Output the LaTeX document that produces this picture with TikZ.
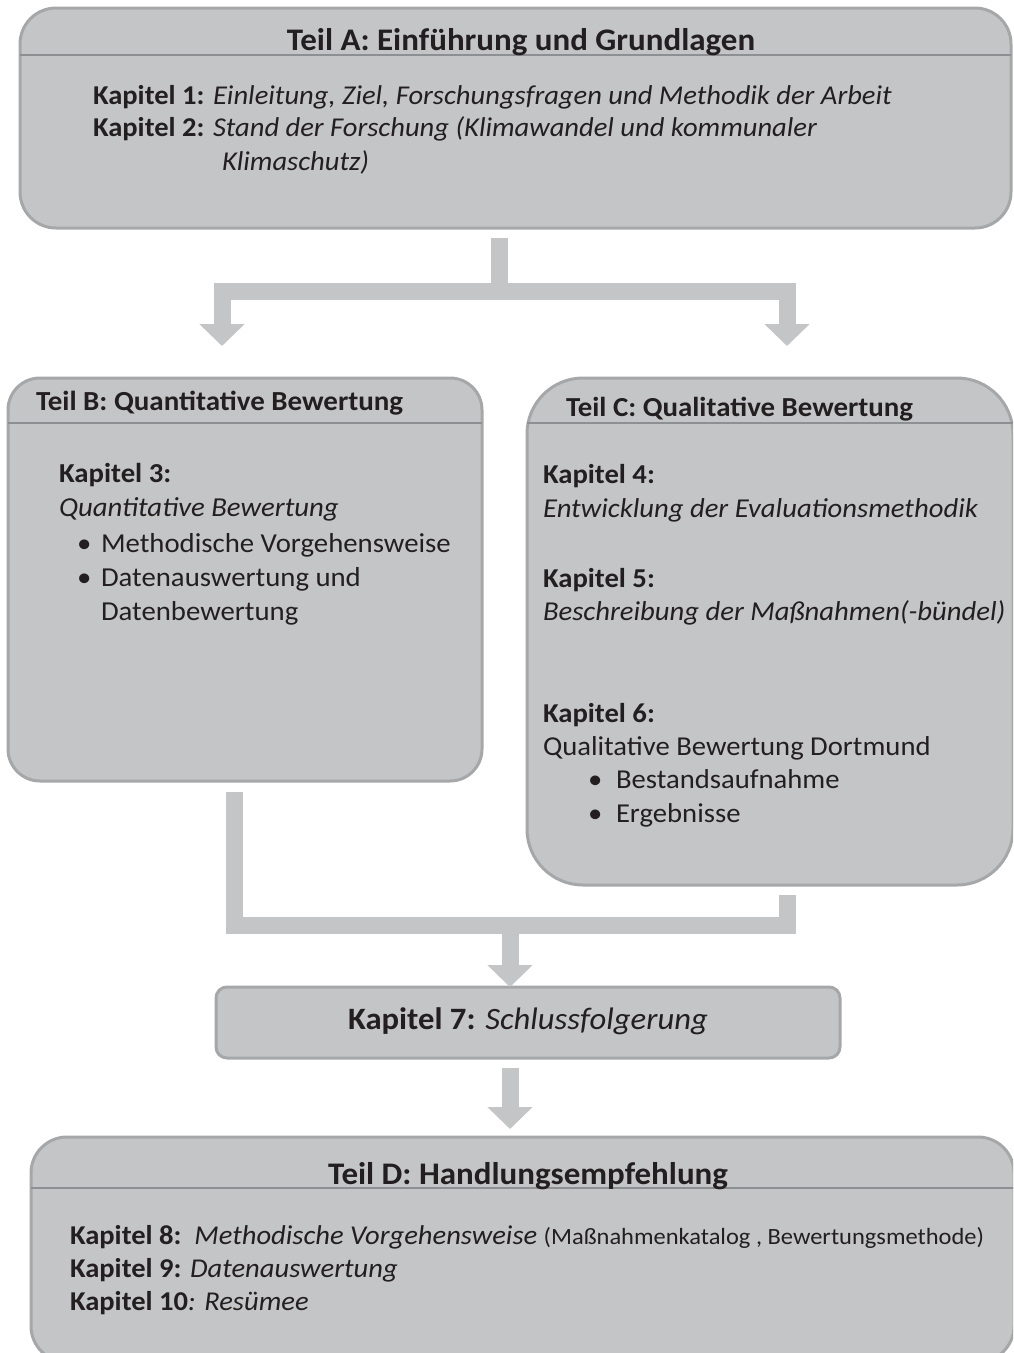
\documentclass[tikz,border=0pt]{standalone}
\usepackage{fontspec}
\setmainfont{Carlito}[FakeStretch=1.05]
\usetikzlibrary{arrows.meta}
\definecolor{boxfill}{HTML}{C4C5C7}
\definecolor{boxline}{HTML}{A6A7A9}
\definecolor{sepline}{HTML}{8E8F92}
\definecolor{txtcol}{HTML}{231F20}
\newcommand{\fs}[1]{\fontsize{#1}{#1}\selectfont}
\tikzset{
  panel/.style={draw=boxline, line width=3pt, fill=boxfill, inner sep=0pt, outer sep=0pt, anchor=north west},
  sep/.style={draw=sepline, line width=1.6pt},
  txt/.style={inner sep=0pt, outer sep=0pt, anchor=base west, text=txtcol},
  ctxt/.style={inner sep=0pt, outer sep=0pt, anchor=base, text=txtcol},
  conn/.style={draw=boxfill, line width=17pt, line join=miter, line cap=butt},
  connarrow/.style={conn, -{Triangle[width=44pt,length=22pt]}},
}
\begin{document}
\begin{tikzpicture}[x=1pt,y=-1pt]
\useasboundingbox (0,0) rectangle (1013,1353);
\begin{scope}
\clip (0,0) rectangle (1013,1353);
% ---------- Teil A
\node[panel, rounded corners=36pt, minimum width=991pt, minimum height=220pt] (A) at (20,8) {};
\draw[sep] (A.west |- 0,55) -- (A.east |- 0,55);
\node[ctxt, font=\fs{31.4}\bfseries] (Atitle) at (521,50) {Teil A: Einführung und Grundlagen};
\node[txt, font=\fs{27.2}] (A1) at (93,104) {\textbf{Kapitel 1:} \textit{Einleitung, Ziel, Forschungsfragen und Methodik der Arbeit}};
\node[txt, font=\fs{27.2}] (A2) at (93,136) {\textbf{Kapitel 2:} \textit{Stand der Forschung (Klimawandel und kommunaler}};
\node[txt, font=\fs{27.2}] (A3) at (222,170) {\textit{Klimaschutz)}};
% ---------- Teil B
\node[panel, rounded corners=32pt, minimum width=474pt, minimum height=403pt] (B) at (8,378) {};
\draw[sep] (B.west |- 0,423) -- (B.east |- 0,423);
\node[txt, font=\fs{27.6}\bfseries] (Btitle) at (36,410) {Teil B: Quantitative Bewertung};
\node[txt, font=\fs{27.4}\bfseries] (B1) at (59,482) {Kapitel 3:};
\node[txt, font=\fs{27.4}\itshape] (B2) at (59,516) {Quantitative Bewertung};
\node[txt, font=\fs{27.4}] (Bb1) at (77,552) {•};
\node[txt, font=\fs{27.4}] (B3) at (101,552) {Methodische Vorgehensweise};
\node[txt, font=\fs{27.4}] (Bb2) at (77,586) {•};
\node[txt, font=\fs{27.4}] (B4) at (101,586) {Datenauswertung und};
\node[txt, font=\fs{27.4}] (B5) at (101,620) {Datenbewertung};
% ---------- Teil C
\node[panel, rounded corners=56pt, minimum width=486pt, minimum height=507pt] (C) at (527,378) {};
\draw[sep] (C.west |- 0,423) -- (C.east |- 0,423);
\node[txt, font=\fs{27.5}\bfseries] (Ctitle) at (566,416) {Teil C: Qualitative Bewertung};
\node[txt, font=\fs{27.3}\bfseries] (C1) at (543,483) {Kapitel 4:};
\node[txt, font=\fs{27.3}\itshape] (C2) at (543,517) {Entwicklung der Evaluationsmethodik};
\node[txt, font=\fs{27.3}\bfseries] (C3) at (543,587) {Kapitel 5:};
\node[txt, font=\fs{27.3}\itshape] (C4) at (543,620) {Beschreibung der Maßnahmen(-bündel)};
\node[txt, font=\fs{27.3}\bfseries] (C5) at (543,722) {Kapitel 6:};
\node[txt, font=\fs{27.3}] (C6) at (543,755) {Qualitative Bewertung Dortmund};
\node[txt, font=\fs{27.3}] (Cb1) at (588,788) {•};
\node[txt, font=\fs{27.3}] (C7) at (616,788) {Bestandsaufnahme};
\node[txt, font=\fs{27.3}] (Cb2) at (588,822) {•};
\node[txt, font=\fs{27.3}] (C8) at (616,822) {Ergebnisse};
% ---------- Kapitel 7
\node[panel, rounded corners=11pt, minimum width=624pt, minimum height=71pt] (K7) at (216,987) {};
\node[ctxt, font=\fs{31.1}] (K7t) at (528,1029) {\textbf{Kapitel 7:} \textit{Schlussfolgerung}};
% ---------- Teil D
\node[panel, rounded corners=36pt, minimum width=983pt, minimum height=225pt] (D) at (31,1137) {};
\draw[sep] (D.west |- 0,1188) -- (D.east |- 0,1188);
\node[ctxt, font=\fs{31.4}\bfseries] (Dtitle) at (528,1184) {Teil D: Handlungsempfehlung};
\node[txt, font=\fs{27.2}] (D1) at (70,1244) {\textbf{Kapitel 8:}\ \ \textit{Methodische Vorgehensweise} {\fs{23.3}(Maßnahmenkatalog , Bewertungsmethode)}};
\node[txt, font=\fs{27.2}] (D2) at (70,1277) {\textbf{Kapitel 9:} \textit{Datenauswertung}};
\node[txt, font=\fs{27.2}] (D3) at (70,1310) {\textbf{Kapitel 10}\textit{: Resümee}};
% ---------- connectors
\coordinate (aout) at (499,238);
\coordinate (bin) at (222,346);
\coordinate (cin) at (787,346);
\coordinate (bout) at (234,792);
\coordinate (cout) at (787,895);
\coordinate (merge) at (510,925);
\coordinate (k7out) at (510,1068);
\draw[connarrow] (aout) |- (bin |- 0,291) -- (bin);
\draw[connarrow] (aout) |- (cin |- 0,291) -- (cin);
\draw[conn] (bout) |- (cout |- merge) -- (cout);
\draw[connarrow] (merge) -- (merge |- K7.north);
\draw[connarrow] (k7out) -- ([yshift=8pt]D.north -| k7out);
\end{scope}
\end{tikzpicture}
\end{document}
